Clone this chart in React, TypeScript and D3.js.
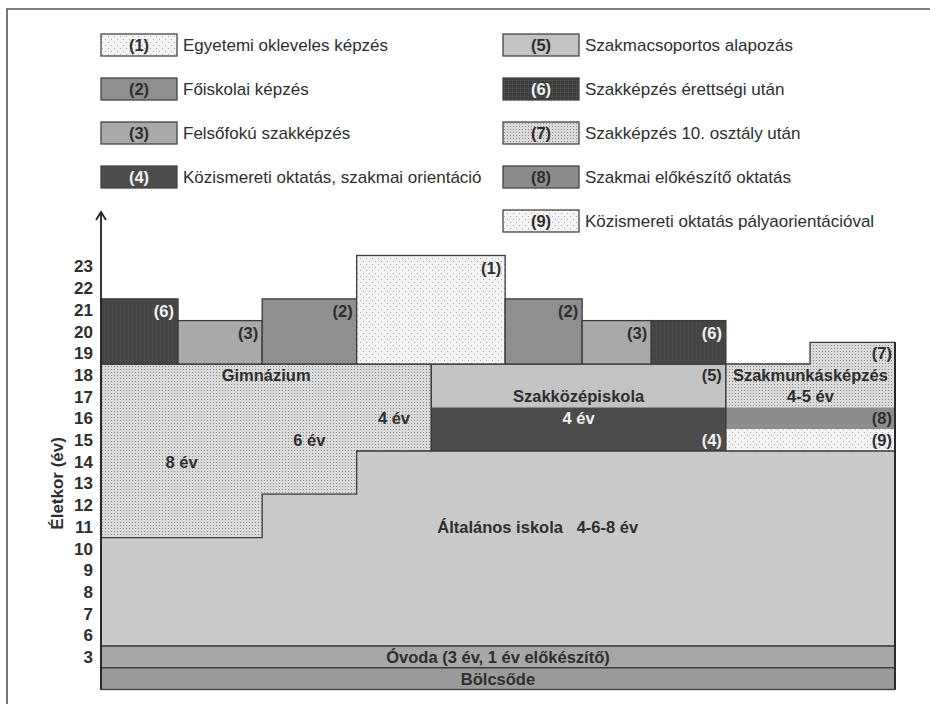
import React from "react";
import * as d3 from "d3";

// ---------- data ----------
const legendCodes = ["(1)", "(2)", "(3)", "(4)", "(5)", "(6)", "(7)", "(8)", "(9)"];
const legendLabels = [
  "Egyetemi okleveles képzés",
  "Főiskolai képzés",
  "Felsőfokú szakképzés",
  "Közismereti oktatás, szakmai orientáció",
  "Szakmacsoportos alapozás",
  "Szakképzés érettségi után",
  "Szakképzés 10. osztály után",
  "Szakmai előkészítő oktatás",
  "Közismereti oktatás pályaorientációval",
];
const legendFills = ["sparse", "c2", "c3", "c4", "c5", "grid", "dense", "c8", "sparse"];

// y ticks: age label shown at row value
const tickValues = [23, 22, 21, 20, 19, 18, 17, 16, 15, 14, 13, 12, 11, 10, 9, 8, 7, 6, 5];
const tickLabels = ["23", "22", "21", "20", "19", "18", "17", "16", "15", "14", "13", "12", "11", "10", "9", "8", "7", "6", "3"];

// tertiary blocks above age 18
const tertiaryCodes = [6, 3, 2, 1, 2, 3, 6];
const tertiaryEdges = [0, 9.7, 20.3, 32.2, 50.9, 60.6, 69.3, 78.7];
const tertiaryTops = [21.5, 20.5, 21.5, 23.5, 21.5, 20.5, 20.5];
const secondaryTop = 18.5;

// Gimnázium steps
const gymEdges = [0, 20.3, 32.2, 41.6];
const gymBottoms = [10.5, 12.5, 14.5];
const gymYears = ["8 év", "6 év", "4 év"];
const gymYearAges = [14, 15, 16];

// Szakközépiskola
const szkEdges = [41.6, 78.7];
const szkSplit = 16.5;
const szkBottom = 14.5;

// Szakmunkásképzés
const szmEdges = [78.7, 100];
const szm7Edges = [89.3, 100];
const szm7Top = 19.5;
const szmRows = [16.5, 15.5, 14.5];

// base levels
const generalRange = [5.5, 14.5];
const generalLabelPos = 55;
const ovodaRange = [4.5, 5.5];
const bolcsRange = [3.5, 4.5];

// ---------- styles ----------
const FONT = "'Liberation Sans', Arial, sans-serif";
const TXT = "#2e2e2e";
const LBL = 16.5;
const fills: Record<string, string> = {
  c2: "#8f8f8f",
  c3: "#a9a9a9",
  c4: "#4c4c4c",
  c5: "#c3c3c3",
  c8: "#8c8c8c",
  sparse: "url(#sparse)",
  dense: "url(#dense)",
  grid: "url(#grid)",
};
const codeFill: Record<number, string> = { 1: "sparse", 2: "c2", 3: "c3", 4: "c4", 5: "c5", 6: "gridSoft", 7: "dense", 8: "c8", 9: "sparse" };
fills.gridSoft = "url(#gridSoft)";
const darkCodes = new Set([4, 6]);

export default function App() {
  const W = 930, H = 704;
  const x = d3.scaleLinear().domain([0, 100]).range([101, 895]);
  const y = d3.scaleLinear().domain([3.5, 23.5]).range([689.5, 255.5]);
  const stroke = "#3a3a3a";

  const rect = (x0: number, x1: number, v0: number, v1: number) => ({
    x: x(x0), y: y(v1), width: x(x1) - x(x0), height: y(v0) - y(v1),
  });

  // gymnasium outline
  const gymPath = d3.path();
  gymPath.moveTo(x(gymEdges[0]), y(secondaryTop));
  gymPath.lineTo(x(gymEdges[3]), y(secondaryTop));
  gymPath.lineTo(x(gymEdges[3]), y(gymBottoms[2]));
  gymPath.lineTo(x(gymEdges[2]), y(gymBottoms[2]));
  gymPath.lineTo(x(gymEdges[2]), y(gymBottoms[1]));
  gymPath.lineTo(x(gymEdges[1]), y(gymBottoms[1]));
  gymPath.lineTo(x(gymEdges[1]), y(gymBottoms[0]));
  gymPath.lineTo(x(gymEdges[0]), y(gymBottoms[0]));
  gymPath.closePath();

  const legendRowY = (i: number) => 45 + i * 44;
  const legendLeft = [101, 503];
  const ax = x(0);
  const axTop = 212;

  return (
    <svg width={W} height={H} style={{ display: "block", position: "absolute", left: 0, top: 0 }} fontFamily={FONT}>
      <defs>
        <pattern id="sparse" width="6" height="6" patternUnits="userSpaceOnUse">
          <rect width="6" height="6" fill="#f3f3f3" />
          <rect x="0" y="0" width="1" height="1" fill="#aaaaaa" />
          <rect x="3" y="3" width="1" height="1" fill="#aaaaaa" />
        </pattern>
        <pattern id="dense" width="3" height="3" patternUnits="userSpaceOnUse">
          <rect width="3" height="3" fill="#dadada" />
          <rect x="0" y="0" width="1" height="1" fill="#8a8a8a" />
        </pattern>
        <pattern id="grid" width="4" height="4" patternUnits="userSpaceOnUse">
          <rect width="4" height="4" fill="#3c3c3c" />
          <rect x="0" y="0" width="4" height="0.6" fill="#525252" />
          <rect x="0" y="0" width="0.6" height="4" fill="#525252" />
        </pattern>
        <pattern id="gridSoft" width="4" height="4" patternUnits="userSpaceOnUse">
          <rect width="4" height="4" fill="#444444" />
          <rect x="0" y="0" width="4" height="0.5" fill="#4e4e4e" />
          <rect x="0" y="0" width="0.5" height="4" fill="#4e4e4e" />
        </pattern>
      </defs>
      <rect width={W} height={H} fill="#fff" />
      {/* frame */}
      <path d={`M7,${H} L7,9 L${W},9`} fill="none" stroke="#555" strokeWidth={1.6} />

      {/* legend */}
      {legendCodes.map((c, i) => {
        const col = i < 4 ? 0 : 1;
        const row = i < 4 ? i : i - 4;
        const cy = legendRowY(row);
        const lx = legendLeft[col];
        const dark = legendFills[i] === "c4" || legendFills[i] === "grid";
        return (
          <g key={c}>
            <rect x={lx} y={cy - 11} width={76} height={22} fill={fills[legendFills[i]]} stroke="#444" strokeWidth={1.3} />
            <text x={lx + 38} y={cy} dy="0.36em" textAnchor="middle" fontWeight="bold" fontSize={16.5} fill={dark ? "#f2f2f2" : TXT}>{c}</text>
            <text x={lx + 82} y={cy} dy="0.36em" fontSize={17} fill={TXT}>{legendLabels[i]}</text>
          </g>
        );
      })}

      {/* base levels */}
      <rect {...rect(0, 100, generalRange[0], generalRange[1])} fill="#c9c9c9" stroke={stroke} strokeWidth={1.3} />
      <rect {...rect(0, 100, ovodaRange[0], ovodaRange[1])} fill="#a7a7a7" stroke={stroke} strokeWidth={1.3} />
      <rect {...rect(0, 100, bolcsRange[0], bolcsRange[1])} fill="#9a9a9a" stroke={stroke} strokeWidth={1.3} />

      {/* gymnasium */}
      <path d={gymPath.toString()} fill="url(#dense)" stroke={stroke} strokeWidth={1.3} />

      {/* Szakközépiskola */}
      <rect {...rect(szkEdges[0], szkEdges[1], szkSplit, secondaryTop)} fill={fills.c5} />
      <rect {...rect(szkEdges[0], szkEdges[1], szkBottom, szkSplit)} fill={fills.c4} />
      <rect {...rect(szkEdges[0], szkEdges[1], szkBottom, secondaryTop)} fill="none" stroke={stroke} strokeWidth={1.3} />

      {/* Szakmunkásképzés */}
      <rect {...rect(szmEdges[0], szmEdges[1], szmRows[0], secondaryTop)} fill="url(#dense)" />
      <rect {...rect(szm7Edges[0], szm7Edges[1], secondaryTop, szm7Top)} fill="url(#dense)" />
      <rect {...rect(szmEdges[0], szmEdges[1], szmRows[1], szmRows[0])} fill={fills.c8} />
      <rect {...rect(szmEdges[0], szmEdges[1], szmRows[2], szmRows[1])} fill="url(#sparse)" />
      <path
        d={`M${x(szmEdges[0])},${y(secondaryTop)} L${x(szm7Edges[0])},${y(secondaryTop)} L${x(szm7Edges[0])},${y(szm7Top)} L${x(szm7Edges[1])},${y(szm7Top)} L${x(szmEdges[1])},${y(szmRows[2])} L${x(szmEdges[0])},${y(szmRows[2])} Z`}
        fill="none" stroke={stroke} strokeWidth={1.3} />

      {/* tertiary */}
      {tertiaryCodes.map((code, i) => {
        const r = rect(tertiaryEdges[i], tertiaryEdges[i + 1], secondaryTop, tertiaryTops[i]);
        return (
          <g key={i}>
            <rect {...r} fill={fills[codeFill[code]]} stroke={stroke} strokeWidth={1.3} />
            <text x={r.x + r.width - 4} y={r.y + 18} textAnchor="end" fontWeight="bold" fontSize={LBL}
              fill={darkCodes.has(code) ? "#f2f2f2" : TXT}>({code})</text>
          </g>
        );
      })}

      {/* right border */}
      <line x1={x(100)} x2={x(100)} y1={y(szm7Top)} y2={y(bolcsRange[0])} stroke="#2a2a2a" strokeWidth={2} />

      {/* labels */}
      <g fontWeight="bold" fontSize={LBL} fill={TXT} textAnchor="middle">
        <text x={(x(gymEdges[0]) + x(gymEdges[3])) / 2} y={y(18)} dy="0.36em">Gimnázium</text>
        {gymYears.map((t, i) => (
          <text key={t} x={(x(gymEdges[i]) + x(gymEdges[i + 1])) / 2} y={y(gymYearAges[i])} dy="0.36em">{t}</text>
        ))}
        <text x={(x(szkEdges[0]) + x(szkEdges[1])) / 2} y={y(17)} dy="0.36em">Szakközépiskola</text>
        <text x={(x(szkEdges[0]) + x(szkEdges[1])) / 2} y={y(16)} dy="0.36em" fill="#f2f2f2">4 év</text>
        <text x={x(szkEdges[1]) - 4} y={y(18)} dy="0.36em" textAnchor="end">(5)</text>
        <text x={x(szkEdges[1]) - 4} y={y(15)} dy="0.36em" textAnchor="end" fill="#f2f2f2">(4)</text>
        <text x={(x(szmEdges[0]) + x(szmEdges[1])) / 2} y={y(18)} dy="0.36em">Szakmunkásképzés</text>
        <text x={(x(szmEdges[0]) + x(szmEdges[1])) / 2} y={y(17)} dy="0.36em">4-5 év</text>
        <text x={x(100) - 3} y={y(19)} dy="0.36em" textAnchor="end">(7)</text>
        <text x={x(100) - 3} y={y(16)} dy="0.36em" textAnchor="end">(8)</text>
        <text x={x(100) - 3} y={y(15)} dy="0.36em" textAnchor="end">(9)</text>
        <text x={x(generalLabelPos)} y={y(11)} dy="0.36em" xmlSpace="preserve" style={{ whiteSpace: "pre" }}>{"Általános iskola   4-6-8 év"}</text>
        <text x={x(50)} y={y(5)} dy="0.36em">Óvoda (3 év, 1 év előkészítő)</text>
        <text x={x(50)} y={y(4)} dy="0.36em">Bölcsőde</text>
      </g>

      {/* y axis */}
      <line x1={ax} x2={ax} y1={y(bolcsRange[0])} y2={axTop} stroke="#222" strokeWidth={1.8} />
      <path d={`M${ax - 5},${axTop + 8} L${ax},${axTop} L${ax + 5},${axTop + 8}`} fill="none" stroke="#222" strokeWidth={1.8} />
      <g fontWeight="bold" fontSize={17} fill={TXT} textAnchor="end">
        {tickValues.map((v, i) => (
          <text key={v} x={93} y={y(v)} dy="0.36em">{tickLabels[i]}</text>
        ))}
      </g>
      <text transform={`translate(57,${y(13)}) rotate(-90)`} textAnchor="middle" dy="0.36em" fontWeight="bold" fontSize={17} fill={TXT}>Életkor (év)</text>
    </svg>
  );
}
